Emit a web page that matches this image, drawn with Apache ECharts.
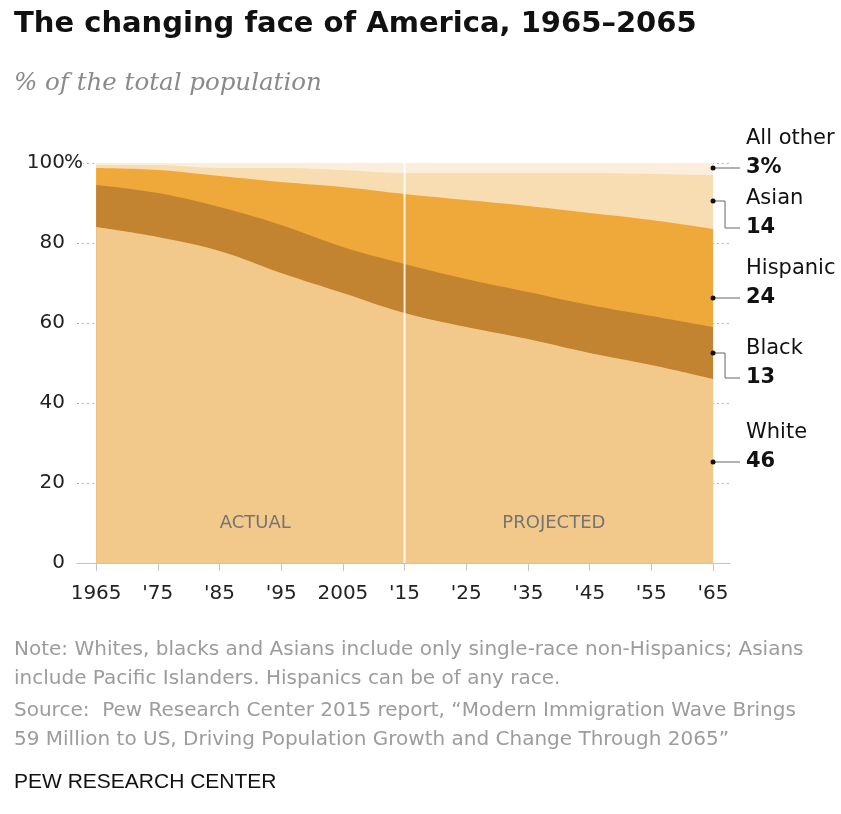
<!DOCTYPE html>
<html>
<head>
<meta charset="utf-8">
<script src="https://cdn.jsdelivr.net/npm/echarts@6/dist/echarts.min.js"></script>
<style>
html,body{margin:0;padding:0;background:#fff;}
#c{width:841px;height:814px;}
</style>
</head>
<body>
<div id="c"></div>
<script>
// ---- data ----
const years = [1965, 1975, 1985, 1995, 2005, 2015, 2025, 2035, 2045, 2055, 2065];
const xTickLabels = ['1965', "'75", "'85", "'95", '2005', "'15", "'25", "'35", "'45", "'55", "'65"];
const white    = [84, 81.5, 78, 72.5, 67.5, 62.5, 59, 56, 52.5, 49.5, 46];
const black    = [10.5, 11, 11, 12, 11.5, 12.25, 12, 11.75, 12, 12.25, 13];
const hispanic = [4.25, 5.75, 7.75, 10.75, 15, 17.5, 19.75, 21.5, 23, 24, 24.5];
const asian    = [0.75, 1.25, 2, 3.5, 4.25, 5.25, 6.75, 8.25, 10, 11.5, 13.5];
const other    = [0.5, 0.5, 1.25, 1.25, 1.75, 2.5, 2.5, 2.5, 2.5, 2.75, 3];
const seriesNames = ['White', 'Black', 'Hispanic', 'Asian', 'All other'];
const endLabels = ['46', '13', '24', '14', '3%'];
const labelAnchors = [25.25, 46.25, 66.25, 83.75, 98.75]; // value-space y of end labels
const dotAnchors   = [25.25, 52.5, 66.25, 90.5, 98.75];   // value-space y of end dots
const yTicks = [0, 20, 40, 60, 80, 100];
const splitYear = 2015;
const periodLabels = ['ACTUAL', 'PROJECTED'];
const periodLabelX = [1990.8, 2039.2];
const colors = ['#F2C98A', '#C38431', '#EEA93A', '#F8DCB2', '#FBEEDC'];

const chart = echarts.init(document.getElementById('c'), null, {renderer: 'canvas'});
const seriesData = [white, black, hispanic, asian, other];
const font = '"DejaVu Sans", "Liberation Sans", Arial, sans-serif';
const font2 = '"Liberation Sans", Arial, sans-serif';

// cumulative tops, computed from the layer arrays
const cum = [];
seriesData.forEach((arr, k) => {
  cum.push(arr.map((v, i) => (k ? cum[k - 1][i] : 0) + v));
});

// draw from the top layer down so each lower layer paints over the one above
const series = [];
for (let k = seriesData.length - 1; k >= 0; k--) {
  series.push({
    name: seriesNames[k],
    type: 'line',
    smooth: 0.4,
    symbol: 'none',
    lineStyle: {width: 0, opacity: 0},
    areaStyle: {color: colors[k], opacity: 1, origin: 'start'},
    data: years.map((y, i) => [y, cum[k][i]]),
    silent: true,
    z: 2 + (seriesData.length - k)
  });
}

chart.setOption({
  animation: false,
  grid: {left: 77, right: 111, top: 163, bottom: 251, containLabel: false},
  xAxis: {
    type: 'value',
    min: 1961.9,
    max: 2067.75,
    splitLine: {show: false},
    axisLine: {show: true, lineStyle: {color: '#c4c4c4', width: 1}},
    axisTick: {show: true, customValues: years, length: 8, lineStyle: {color: '#c4c4c4'}},
    axisLabel: {
      customValues: years,
      margin: 21,
      color: '#222',
      fontFamily: font,
      fontSize: 20,
      formatter: v => xTickLabels[years.indexOf(Math.round(v))] || ''
    }
  },
  yAxis: {
    type: 'value',
    min: 0,
    max: 100,
    interval: 20,
    axisLine: {show: false},
    axisTick: {show: false},
    splitLine: {show: true, lineStyle: {color: '#b5b5b5', type: [2, 3], width: 1}},
    axisLabel: {
      margin: 12,
      color: '#222',
      fontFamily: font,
      fontSize: 20,
      formatter: v => String(v)
    }
  },
  series: series
});

// ---- annotations ----
const P = (x, y) => chart.convertToPixel({gridIndex: 0}, [x, y]);
const g = [];
g.push({type: 'text', x: 14, y: 24, style: {text: 'The changing face of America, 1965\u20132065', font: 'bold 29px ' + font, fill: '#111', textVerticalAlign: 'middle'}});
g.push({type: 'text', x: 14, y: 84, style: {text: '% of the total population', font: 'italic 24.5px "DejaVu Serif", serif', fill: '#8a8a8a', textVerticalAlign: 'middle'}});

// white divider at the actual/projected split
const s0 = P(splitYear, 0), s1 = P(splitYear, 100);
g.push({type: 'line', z: 40, shape: {x1: s0[0], y1: s0[1], x2: s1[0], y2: s1[1]}, style: {stroke: 'rgba(255,255,255,0.85)', lineWidth: 2}});

// "%" after 100
const p100 = P(1961.9, 100);
g.push({type: 'text', x: p100[0] - 13, y: p100[1], style: {text: '%', font: '20px ' + font, fill: '#222', textVerticalAlign: 'middle', textAlign: 'left', backgroundColor: '#fff'}, z: 10});

periodLabels.forEach((t, i) => {
  const p = P(periodLabelX[i], 10);
  g.push({type: 'text', x: p[0], y: p[1], z: 30, style: {text: t, font: '18px ' + font, fill: '#747474', textAlign: 'center', textVerticalAlign: 'middle'}});
});

const endX = years[years.length - 1];
seriesNames.forEach((name, k) => {
  const d = P(endX, dotAnchors[k]);
  const l = P(endX, labelAnchors[k]);
  const lx = 746;
  let pts;
  if (Math.abs(d[1] - l[1]) < 1) {
    pts = [[d[0], d[1]], [lx - 6, d[1]]];
  } else {
    pts = [[d[0], d[1]], [d[0] + 12, d[1]], [d[0] + 12, l[1]], [lx - 6, l[1]]];
  }
  g.push({type: 'polyline', z: 30, shape: {points: pts}, style: {stroke: '#666', lineWidth: 1, fill: null}});
  g.push({type: 'circle', z: 31, shape: {cx: d[0], cy: d[1], r: 2.5}, style: {fill: '#111'}});
  g.push({type: 'text', z: 30, x: lx, y: l[1], style: {text: endLabels[k], font: 'bold 21px ' + font, fill: '#111', textVerticalAlign: 'middle'}});
  g.push({type: 'text', z: 30, x: lx, y: l[1] - 29, style: {text: name, font: '21px ' + font, fill: '#111', textVerticalAlign: 'middle'}});
});

const noteStyle = {font: '20px ' + font, fill: '#9c9c9c'};
const noteLines = [
  'Note: Whites, blacks and Asians include only single-race non-Hispanics; Asians',
  'include Pacific Islanders. Hispanics can be of any race.',
  'Source:  Pew Research Center 2015 report, \u201cModern Immigration Wave Brings',
  '59 Million to US, Driving Population Growth and Change Through 2065\u201d'
];
const noteY = [650, 679, 711, 740];
noteLines.forEach((t, i) => {
  g.push({type: 'text', x: 14, y: noteY[i], style: Object.assign({text: t, textVerticalAlign: 'middle'}, noteStyle)});
});
g.push({type: 'text', x: 14, y: 782, style: {text: 'PEW RESEARCH CENTER', font: '21px ' + font2, fill: '#111', textVerticalAlign: 'middle'}});

chart.setOption({graphic: g});
</script>
</body>
</html>
